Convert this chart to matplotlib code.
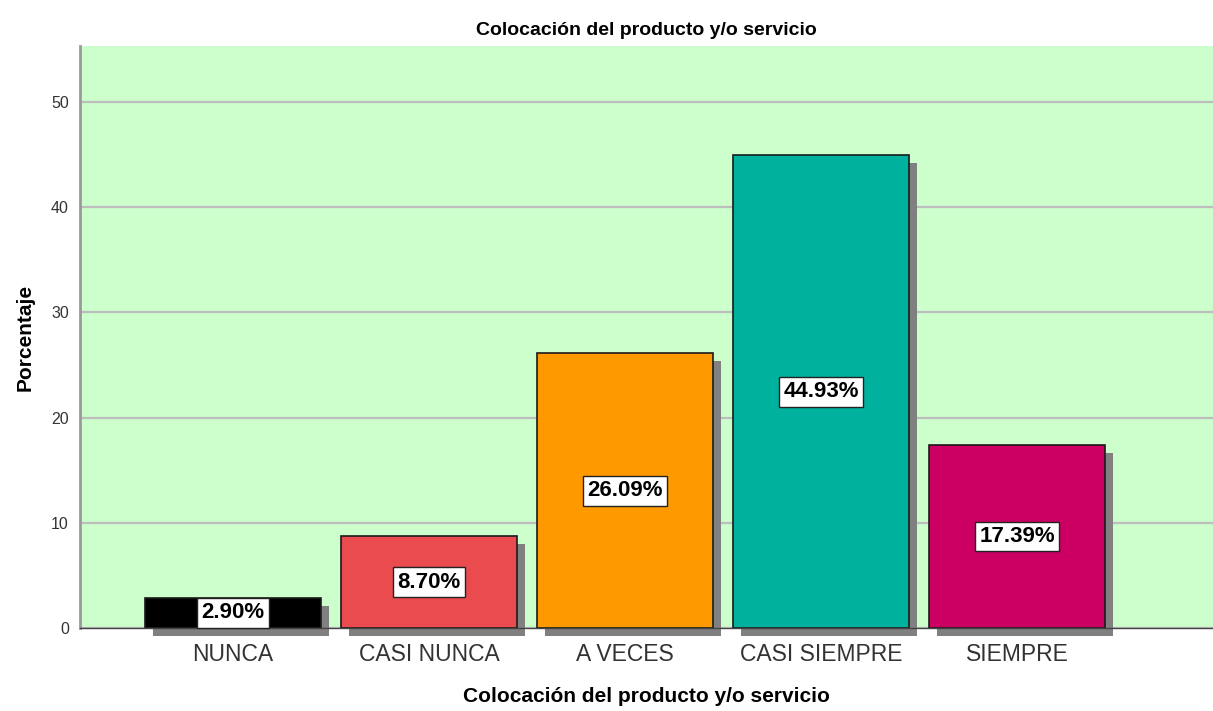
import matplotlib
matplotlib.use("Agg")
import matplotlib.pyplot as plt
import matplotlib.transforms as mtransforms
import numpy as np

# ==========================
# DATA
# ==========================

categories = ["NUNCA", "CASI NUNCA", "A VECES", "CASI SIEMPRE", "SIEMPRE"]
percentages = [2.90, 8.70, 26.09, 44.93, 17.39]
bar_colors = ["#000000", "#EA4B4F", "#FF9900", "#00B29E", "#CC0062"]
y_ticks = [0, 10, 20, 30, 40, 50]

title = "Colocación del producto y/o servicio"

plt.rcParams["font.family"] = ["Liberation Sans", "DejaVu Sans"]

# ==========================
# FIGURE
# ==========================

fig = plt.figure(figsize=(12.13, 7.11), dpi=100)
ax = fig.add_axes([0.066, 0.1167, 0.934, 0.8186])
ax.set_facecolor("#CCFFCC")

x = np.arange(len(categories))
width = 0.898

# shadow bars, shifted down-right by a few pixels
shadow_tr = ax.transData + mtransforms.ScaledTranslation(
    8 / 100, -8 / 100, fig.dpi_scale_trans
)
ax.bar(x, percentages, width, color="#808080", zorder=2,
       transform=shadow_tr, clip_on=False, linewidth=0)

ax.bar(x, percentages, width, color=bar_colors, edgecolor="#1a1a1a",
       linewidth=1.2, zorder=3)

for xi, v in zip(x, percentages):
    ax.text(xi, v / 2, f"{v:.2f}%", ha="center", va="center",
            fontsize=16, fontweight="bold", zorder=5,
            bbox=dict(boxstyle="square,pad=0.2", facecolor="white",
                      edgecolor="#222222", linewidth=1))

ax.set_xlim(-0.78, 5.0)
ax.set_ylim(0, 55.3)
ax.set_yticks(y_ticks)
ax.set_xticks(x)
ax.set_xticklabels(categories, fontsize=16.5, color="#333333")
ax.tick_params(axis="y", labelsize=11.5, length=0, pad=8, labelcolor="#333333")
ax.tick_params(axis="x", length=0, pad=11)

ax.yaxis.grid(True, color="#BDBDBD", linewidth=1.6, zorder=1)
ax.set_axisbelow(True)

for side in ["top", "right"]:
    ax.spines[side].set_visible(False)
ax.spines["left"].set_color("#999999")
ax.spines["left"].set_linewidth(2)
ax.spines["bottom"].set_color("#444444")
ax.spines["bottom"].set_linewidth(1)
ax.spines["bottom"].set_zorder(4)

ax.set_title(title, fontsize=14, fontweight="bold", pad=8)
ax.set_xlabel(title, fontsize=15, fontweight="bold", labelpad=15)
ax.set_ylabel("Porcentaje", fontsize=15, fontweight="bold", labelpad=12)

fig.savefig("out.png", dpi=100)
